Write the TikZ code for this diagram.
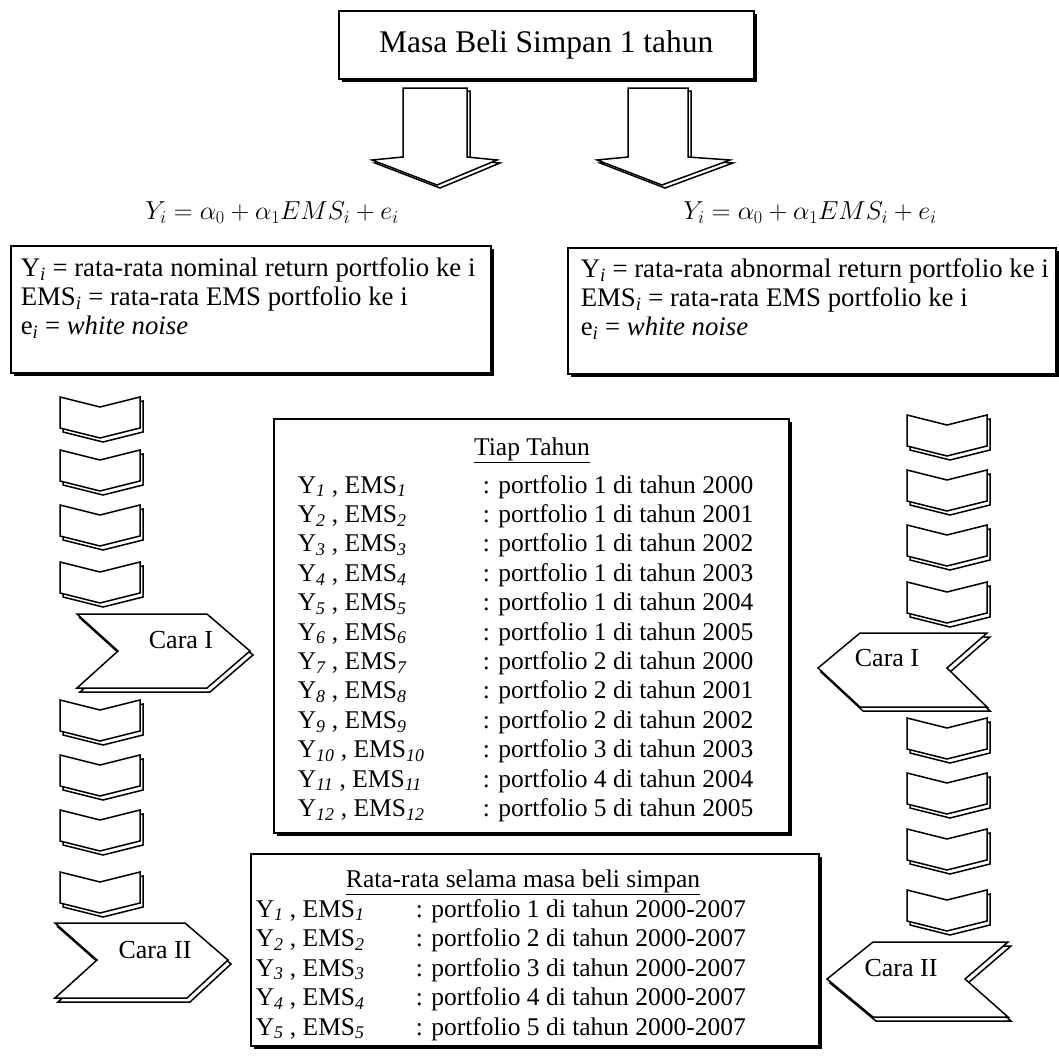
\RequirePackage{fix-cm}
\documentclass[tikz,border=0pt]{standalone}
\usepackage{fontspec}
\setmainfont{Liberation Serif}
\usetikzlibrary{shadows}
\newcommand\ys[1]{Y\textsubscript{\itshape #1}}
\newcommand\es[1]{EMS\textsubscript{\itshape #1}}
\newcommand\chevD[2]{%
  \draw[shd,shift={({#1+3},{#2+4})}] (0,0) -- (40,10) -- (80,0) -- (80,31) -- (40,41) -- (0,31) -- cycle;
  \draw[shp,shift={(#1,#2)}] (0,0) -- (40,10) -- (80,0) -- (80,31) -- (40,41) -- (0,31) -- cycle;}
\begin{document}
\begin{tikzpicture}[x=1pt,y=-1pt,line width=1.5pt,line join=miter,
  box/.style={draw,fill=white,inner sep=0pt,anchor=north west,
    drop shadow={shadow xshift=3pt,shadow yshift=-3pt,fill=black,opacity=1}},
  tx/.style={font=\fontsize{25.5}{29.4}\selectfont,anchor=base west,inner sep=0pt},
  dx/.style={font=\fontsize{26.8}{30}\selectfont,anchor=base west,inner sep=0pt},
  cara/.style={font=\fontsize{26}{30}\selectfont,inner sep=0pt},
  eq/.style={font=\fontsize{26}{30}\selectfont,inner sep=0pt},
  shp/.style={draw,fill=white},
  shd/.style={draw}]
\useasboundingbox (0,0) rectangle (1059,1055);

% top box
\node[box,minimum width=415pt,minimum height=68pt,font=\fontsize{31.5}{36}\selectfont] (top) at (338,10) {Masa Beli Simpan 1 tahun};

% block arrows
\draw[shd,shift={(3,3)}] (403,88) -- (467,88) -- (467,157) -- (497,160) -- (437,185) -- (372,160) -- (403,157) -- cycle;
\draw[shp] (403,88) -- (467,88) -- (467,157) -- (497,160) -- (437,185) -- (372,160) -- (403,157) -- cycle;
\draw[shd,shift={(3,3)}] (628,88) -- (688,88) -- (688,157) -- (730,160) -- (662,185) -- (597,160) -- (628,157) -- cycle;
\draw[shp] (628,88) -- (688,88) -- (688,157) -- (730,160) -- (662,185) -- (597,160) -- (628,157) -- cycle;

% equations
\node[eq] (eqL) at (272,213) {$Y_i = \alpha_0 + \alpha_1 EMS_i + e_i$};
\node[eq] (eqR) at (810,213) {$Y_i = \alpha_0 + \alpha_1 EMS_i + e_i$};

% left and right definition boxes
\node[box,minimum width=480pt,minimum height=127pt] (lbox) at (10,245) {};
\node[dx] (l1) at (20,276) {\ys{i} = rata-rata nominal return portfolio ke i};
\node[dx] (l2) at (20,305) {\es{i} = rata-rata EMS portfolio ke i};
\node[dx] (l3) at (20,334) {e\textsubscript{\itshape i} = \textit{white noise}};

\node[box,minimum width=488pt,minimum height=126pt] (rbox) at (567,247) {};
\node[dx] (r1) at (580,277) {\ys{i} = rata-rata abnormal return portfolio ke i};
\node[dx] (r2) at (580,306) {\es{i} = rata-rata EMS portfolio ke i};
\node[dx] (r3) at (580,335) {e\textsubscript{\itshape i} = \textit{white noise}};

% center table
\node[box,minimum width=515pt,minimum height=414pt] (cbox) at (273,418) {};
\node[tx,anchor=base] (ctitle) at (532,455) {\underline{Tiap Tahun}};
\foreach \k/\p/\yr [count=\n] in {1/1/2000,2/1/2001,3/1/2002,4/1/2003,5/1/2004,6/1/2005,7/2/2000,8/2/2001,9/2/2002,10/3/2003,11/4/2004,12/5/2005}{
  \node[tx] (ca\n) at (297,{493+(\n-1)*29.4}) {\ys{\k} , \es{\k}};
  \node[tx] (cb\n) at (482,{493+(\n-1)*29.4}) {: portfolio \p\ di tahun \yr};
}

% bottom table
\node[box,minimum width=568pt,minimum height=192pt] (bbox) at (250,853) {};
\node[tx,anchor=base] (btitle) at (523,887) {\underline{Rata-rata selama masa beli simpan}};
\foreach \k in {1,...,5}{
  \node[tx] (ba\k) at (255,{917+(\k-1)*29.5}) {\ys{\k} , \es{\k}};
  \node[tx] (bb\k) at (415,{917+(\k-1)*29.5}) {: portfolio \k\ di tahun 2000-2007};
}

% left chevrons
\foreach \yy in {397,450,505,562,700,755,810,872}{\chevD{60}{\yy}}
% right chevrons
\foreach \yy in {415,470,525,582,718,773,829,890}{\chevD{907}{\yy}}

% Cara shapes
\draw[shd,shift={(3,4)}] (77,614) -- (207,614) -- (250,651) -- (207,688) -- (77,688) -- (118,651) -- cycle;
\draw[shp] (77,614) -- (207,614) -- (250,651) -- (207,688) -- (77,688) -- (118,651) -- cycle;
\node[cara] (caraIL) at (181,640) {Cara I};

\draw[shd,shift={(3,4)}] (55,923) -- (185,923) -- (228,960) -- (187,998) -- (55,998) -- (97,960) -- cycle;
\draw[shp] (55,923) -- (185,923) -- (228,960) -- (187,998) -- (55,998) -- (97,960) -- cycle;
\node[cara] (caraIIL) at (155,950) {Cara II};

\draw[shd,shift={(3,4)}] (860,633) -- (987,633) -- (947,668) -- (987,707) -- (860,707) -- (818,668) -- cycle;
\draw[shp] (860,633) -- (987,633) -- (947,668) -- (987,707) -- (860,707) -- (818,668) -- cycle;
\node[cara] (caraIR) at (887,658) {Cara I};

\draw[shd,shift={(3,4)}] (873,942) -- (1008,942) -- (965,979) -- (1008,1017) -- (873,1017) -- (827,979) -- cycle;
\draw[shp] (873,942) -- (1008,942) -- (965,979) -- (1008,1017) -- (873,1017) -- (827,979) -- cycle;
\node[cara] (caraIIR) at (901,968) {Cara II};
\end{tikzpicture}
\end{document}
